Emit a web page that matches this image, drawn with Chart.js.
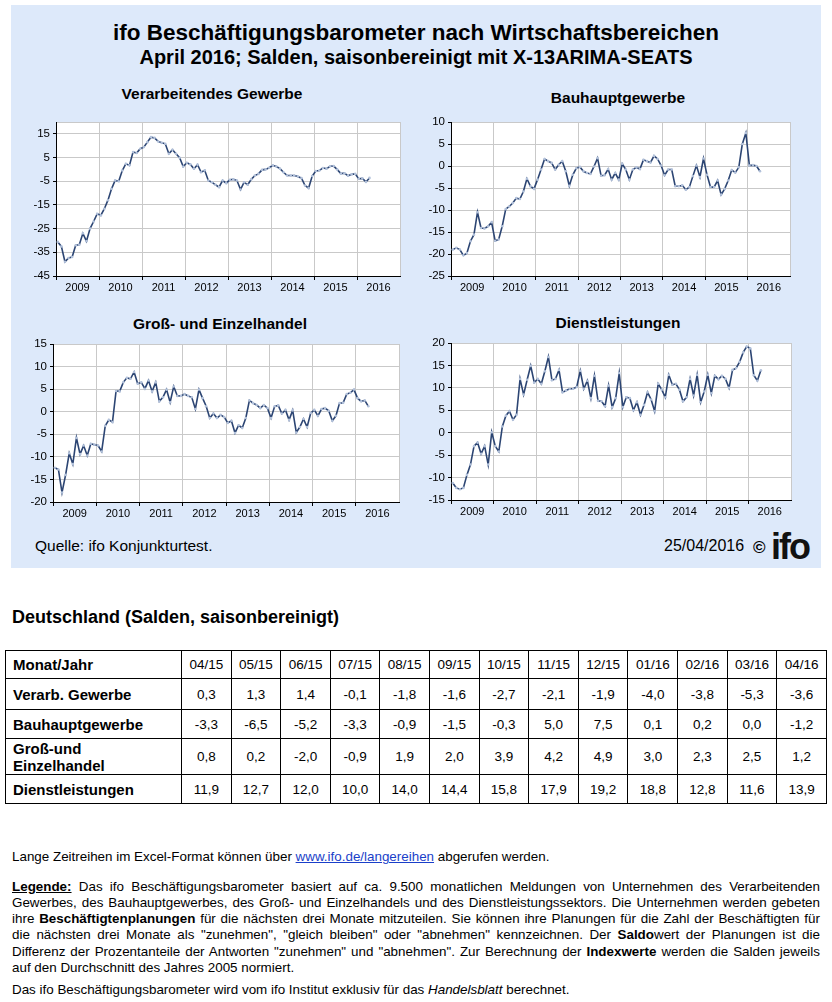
<!DOCTYPE html>
<html lang="de">
<head>
<meta charset="utf-8">
<title>ifo Beschäftigungsbarometer</title>
<script src="https://cdn.jsdelivr.net/npm/chart.js@4.4.1/dist/chart.umd.min.js"></script>
<style>
  body { margin:0; width:832px; height:1002px; position:relative; overflow:hidden; background:#fff;
         font-family:"Liberation Sans", Arial, sans-serif; color:#000; }
  .abs { position:absolute; }
  #panel { left:11px; top:5px; width:810px; height:563px; background:#dde9fa; }
  .titel { left:0; width:832px; text-align:center; font-weight:bold; }
  .ctitel { width:400px; text-align:center; font-weight:bold; font-size:15.5px; line-height:18px; }
  canvas { position:absolute; }
  table { position:absolute; left:5px; top:650px; border-collapse:collapse; table-layout:fixed; width:822px; }
  td { border:1px solid #000; font-size:13.5px; text-align:center; padding:0; }
  td.lab { text-align:left; font-weight:bold; font-size:15px; padding-left:7px; line-height:17px; }
  .zeile { left:12px; width:808px; font-size:13.4px; line-height:16px; white-space:nowrap; }
  a { color:#1a3fc9; text-decoration:underline; }
</style>
</head>
<body>
<div id="panel" class="abs"></div>
<div class="abs titel" style="top:20px;font-size:22.5px;line-height:26px">ifo Beschäftigungsbarometer nach Wirtschaftsbereichen</div>
<div class="abs titel" style="top:46px;font-size:20px;line-height:22px">April 2016; Salden, saisonbereinigt mit X-13ARIMA-SEATS</div>

<div class="abs ctitel" style="left:12px;top:85px">Verarbeitendes Gewerbe</div>
<div class="abs ctitel" style="left:418px;top:89px">Bauhauptgewerbe</div>
<div class="abs ctitel" style="left:20px;top:315px">Groß- und Einzelhandel</div>
<div class="abs ctitel" style="left:418px;top:314px">Dienstleistungen</div>

<canvas id="c1" width="400" height="188" style="left:10px;top:112px"></canvas>
<canvas id="c2" width="400" height="188" style="left:410px;top:112px"></canvas>
<canvas id="c3" width="400" height="192" style="left:10px;top:334px"></canvas>
<canvas id="c4" width="400" height="191" style="left:410px;top:333px"></canvas>

<div class="abs" style="left:35px;top:537px;font-size:15.5px;line-height:18px">Quelle: ifo Konjunkturtest.</div>
<div class="abs" style="left:664px;top:537px;font-size:16px;line-height:18px">25/04/2016</div>
<div class="abs" style="left:753px;top:538px;font-size:17px;line-height:20px;font-weight:bold">©</div>
<div class="abs" style="left:771px;top:529px;font-size:36px;line-height:36px;font-weight:bold;letter-spacing:-2px;color:#111">ifo</div>

<div class="abs" style="left:12px;top:606px;font-size:18px;line-height:22px;font-weight:bold">Deutschland (Salden, saisonbereinigt)</div>

<table id="tab">
  <colgroup><col style="width:176px"></colgroup>
  <tbody></tbody>
</table>

<div class="abs zeile" style="top:849px">Lange Zeitreihen im Excel-Format können über <a>www.ifo.de/langereihen</a> abgerufen werden.</div>
<div class="abs zeile j" style="top:879px"><b><u>Legende:</u></b> Das ifo Beschäftigungsbarometer basiert auf ca. 9.500 monatlichen Meldungen von Unternehmen des Verarbeitenden</div>
<div class="abs zeile j" style="top:895px">Gewerbes, des Bauhauptgewerbes, des Groß- und Einzelhandels und des Dienstleistungssektors. Die Unternehmen werden gebeten</div>
<div class="abs zeile j" style="top:911px">ihre <b>Beschäftigtenplanungen</b> für die nächsten drei Monate mitzuteilen. Sie können ihre Planungen für die Zahl der Beschäftigten für</div>
<div class="abs zeile j" style="top:927px">die nächsten drei Monate als "zunehmen", "gleich bleiben" oder "abnehmen" kennzeichnen. Der <b>Saldo</b>wert der Planungen ist die</div>
<div class="abs zeile j" style="top:944px">Differenz der Prozentanteile der Antworten "zunehmen" und "abnehmen". Zur Berechnung der <b>Indexwerte</b> werden die Salden jeweils</div>
<div class="abs zeile" style="top:960px">auf den Durchschnitt des Jahres 2005 normiert.</div>
<div class="abs zeile" style="top:982px">Das ifo Beschäftigungsbarometer wird vom ifo Institut exklusiv für das <i>Handelsblatt</i> berechnet.</div>

<script>
// Monatswerte Jan 2009 - Apr 2016 (Salden)
const startJahr = 2009;
const jahre = ['2009', '2010', '2011', '2012', '2013', '2014', '2015', '2016'];

const verarbGewerbe = [-30.6, -32.5, -39.0, -37.4, -37.0, -32.0, -31.8, -27.0, -30.3, -25.0,
  -22.0, -18.7, -19.4, -16.6, -13.0, -8.2, -4.7, -5.0, -0.5, 2.4,
  1.7, 7.3, 6.9, 8.7, 9.4, 11.5, 13.6, 13.3, 11.8, 11.2,
  10.8, 6.6, 8.3, 6.6, 4.9, 1.2, 2.8, 2.1, 0.3, 2.0,
  -1.2, -0.4, -4.7, -5.4, -6.5, -7.5, -4.7, -5.8, -4.4, -4.2,
  -4.7, -8.5, -5.4, -6.5, -4.2, -2.6, -1.9, -0.2, 0.0, 0.7,
  1.7, 1.2, 0.3, -1.2, -2.6, -2.6, -2.6, -3.0, -3.7, -6.8,
  -7.9, -2.8, -0.7, -0.5, 0.6,
  0.3, 1.3, 1.4, -0.1, -1.8, -1.6, -2.7, -2.1, -1.9, -4.0, -3.8, -5.3, -3.6];

const bauhauptgewerbe = [-19.0, -18.6, -19.0, -20.3, -19.8, -17.1, -15.6, -10.5, -14.1, -14.2,
  -13.7, -12.8, -17.0, -16.7, -13.7, -9.8, -9.2, -8.4, -7.3, -7.5,
  -5.8, -2.9, -4.6, -5.2, -3.1, -0.8, 1.6, 1.1, 0.7, -0.8,
  0.3, 1.1, -1.2, -4.5, -2.0, -0.5, -0.2, -1.2, -1.6, -1.8,
  -0.1, 1.8, -2.2, -2.1, -0.7, -3.1, -1.6, -3.1, 0.5, -0.8,
  -3.1, -0.8, -0.3, -0.7, 1.4, 1.1, 0.8, 2.3, 1.6, 0.1,
  -2.1, -0.8, -0.8, -4.6, -4.6, -4.4, -5.4, -4.8, -2.3, 0.1,
  -2.5, 1.7, -2.0, -4.8, -4.8,
  -3.3, -6.5, -5.2, -3.3, -0.9, -1.5, -0.3, 5.0, 7.5, 0.1, 0.2, 0.0, -1.2];

const handel = [-12.4, -12.8, -17.9, -14.0, -9.2, -11.6, -5.8, -9.4, -7.5, -9.7,
  -7.1, -7.3, -7.5, -8.8, -3.1, -1.8, -2.3, 4.6, 4.5, 6.5,
  7.5, 7.3, 8.8, 6.2, 6.5, 5.1, 6.9, 4.5, 6.5, 2.3,
  3.2, 4.9, 2.1, 5.6, 3.5, 3.5, 3.9, 3.5, 3.2, 0.6,
  4.9, 3.0, 1.2, -1.4, -0.4, -1.4, -0.7, -1.2, -2.5, -2.0,
  -4.7, -3.0, -3.6, -1.4, 2.5, 1.9, 1.5, 0.8, 1.5, 0.8,
  -1.4, 1.2, 1.4, -0.4, 0.4, -1.8, 0.3, -4.6, -3.4, -1.6,
  -3.4, -0.3, 0.4, -0.9, 0.6,
  0.8, 0.2, -2.0, -0.9, 1.9, 2.0, 3.9, 4.2, 4.9, 3.0, 2.3, 2.5, 1.2];

const dienstleistungen = [-11.2, -12.3, -12.6, -12.3, -9.4, -7.1, -3.0, -2.2, -4.7, -3.0,
  -7.1, 0.1, -3.0, -4.2, 1.4, 3.8, 4.8, 2.9, 4.0, 12.0,
  8.5, 11.8, 14.9, 11.2, 12.0, 10.9, 13.7, 16.9, 11.7, 12.0,
  14.0, 9.0, 9.4, 9.8, 9.8, 10.2, 13.8, 9.8, 11.6, 7.7,
  12.7, 7.1, 7.0, 5.9, 10.5, 5.7, 7.7, 13.3, 5.7, 7.9,
  7.7, 5.0, 6.8, 4.0, 6.2, 9.0, 7.4, 4.8, 10.9, 9.6,
  7.9, 12.9, 10.7, 10.9, 9.6, 7.0, 7.9, 12.0, 8.3, 12.9,
  6.8, 9.2, 12.9, 8.8, 12.7,
  11.9, 12.7, 12.0, 10.0, 14.0, 14.4, 15.8, 17.9, 19.2, 18.8, 12.8, 11.6, 13.9];

// Tabelle: letzte 13 Monate
const tabMonate = ['04/15', '05/15', '06/15', '07/15', '08/15', '09/15', '10/15', '11/15', '12/15', '01/16', '02/16', '03/16', '04/16'];
const tabZeilen = ['Verarb. Gewerbe', 'Bauhauptgewerbe', 'Groß-und<br>Einzelhandel', 'Dienstleistungen'];

// y-Achsen
const yTicks1 = [-45, -35, -25, -15, -5, 5, 15];
const yTicks2 = [-25, -20, -15, -10, -5, 0, 5, 10];
const yTicks3 = [-20, -15, -10, -5, 0, 5, 10, 15];
const yTicks4 = [-15, -10, -5, 0, 5, 10, 15, 20];

const FONT = '"Liberation Sans", Arial, sans-serif';
const LINIE = '#2c4573';
const GITTER = '#c9c9c9';
const KEIN = 'rgba(0,0,0,0)';

const weissFlaeche = {
  id: 'weissFlaeche',
  beforeDraw(chart) {
    const { ctx, chartArea: a } = chart;
    ctx.save();
    ctx.fillStyle = '#fff';
    ctx.fillRect(a.left, a.top, a.right - a.left, a.bottom - a.top);
    ctx.restore();
  }
};

function zeichne(id, werte, yMin, yMax, yTicks, yBreite, rechts) {
  const alleTicks = yTicks.includes(yMax) ? yTicks : yTicks.concat(yMax);
  new Chart(document.getElementById(id), {
    type: 'line',
    data: {
      datasets: [{
        data: werte.map((v, i) => ({ x: i + 0.5, y: v })),
        borderColor: LINIE,
        borderWidth: 1.6,
        pointRadius: 1.3,
        pointBackgroundColor: '#b3c2db',
        pointBorderWidth: 0,
        tension: 0
      }]
    },
    options: {
      responsive: false,
      animation: false,
      layout: { padding: { top: 10, right: rechts, left: 0, bottom: 0 } },
      plugins: { legend: { display: false }, tooltip: { enabled: false } },
      scales: {
        x: {
          type: 'linear', min: 0, max: 96,
          afterFit: s => { s.height = 24; },
          ticks: {
            stepSize: 6, autoSkip: false, maxRotation: 0, padding: 1, color: '#000',
            font: { size: 11, family: FONT },
            callback: v => v % 12 === 6 ? jahre[(v - 6) / 12] : ''
          },
          grid: {
            color: c => (c.tick && c.tick.value % 12 === 0 && c.tick.value > 0) ? GITTER : KEIN,
            tickColor: c => (c.tick && c.tick.value % 12 === 0 && c.tick.value < 96) ? '#000' : KEIN,
            tickLength: 4
          },
          border: { color: '#000', width: 1 }
        },
        y: {
          min: yMin, max: yMax,
          afterFit: s => { s.width = yBreite; },
          afterBuildTicks: s => { s.ticks = alleTicks.map(v => ({ value: v })); },
          ticks: {
            padding: 3, color: '#000', font: { size: 11.5, family: FONT },
            callback: v => yTicks.includes(v) ? String(v) : ''
          },
          grid: {
            color: GITTER,
            tickColor: c => (c.tick && yTicks.includes(c.tick.value)) ? '#000' : KEIN,
            tickLength: 3
          },
          border: { color: '#000', width: 1 }
        }
      }
    },
    plugins: [weissFlaeche]
  });
}

zeichne('c1', verarbGewerbe, -45, 20, yTicks1, 46, 10);
zeichne('c2', bauhauptgewerbe, -25, 10, yTicks2, 41, 20);
zeichne('c3', handel, -20, 15, yTicks3, 43, 11);
zeichne('c4', dienstleistungen, -15, 20, yTicks4, 41, 19);

// Tabelle aufbauen
const reihen = [verarbGewerbe, bauhauptgewerbe, handel, dienstleistungen];
const hoehen = [28, 31, 29, 36, 29];
const fmt = v => v.toFixed(1).replace('.', ',');
let html = '<tr style="height:' + hoehen[0] + 'px"><td class="lab">Monat/Jahr</td>' +
  tabMonate.map(m => '<td>' + m + '</td>').join('') + '</tr>';
reihen.forEach((r, k) => {
  html += '<tr style="height:' + hoehen[k + 1] + 'px"><td class="lab">' + tabZeilen[k] + '</td>' +
    r.slice(-tabMonate.length).map(v => '<td>' + fmt(v) + '</td>').join('') + '</tr>';
});
document.querySelector('#tab tbody').innerHTML = html;

// Blocksatz für die Legende-Zeilen
document.querySelectorAll('.zeile.j').forEach(el => {
  const span = document.createElement('span');
  span.innerHTML = el.innerHTML;
  el.innerHTML = '';
  el.appendChild(span);
  const w = span.getBoundingClientRect().width;
  const luecken = (el.textContent.match(/ /g) || []).length;
  el.style.wordSpacing = ((808 - w) / luecken) + 'px';
});
</script>
</body>
</html>
